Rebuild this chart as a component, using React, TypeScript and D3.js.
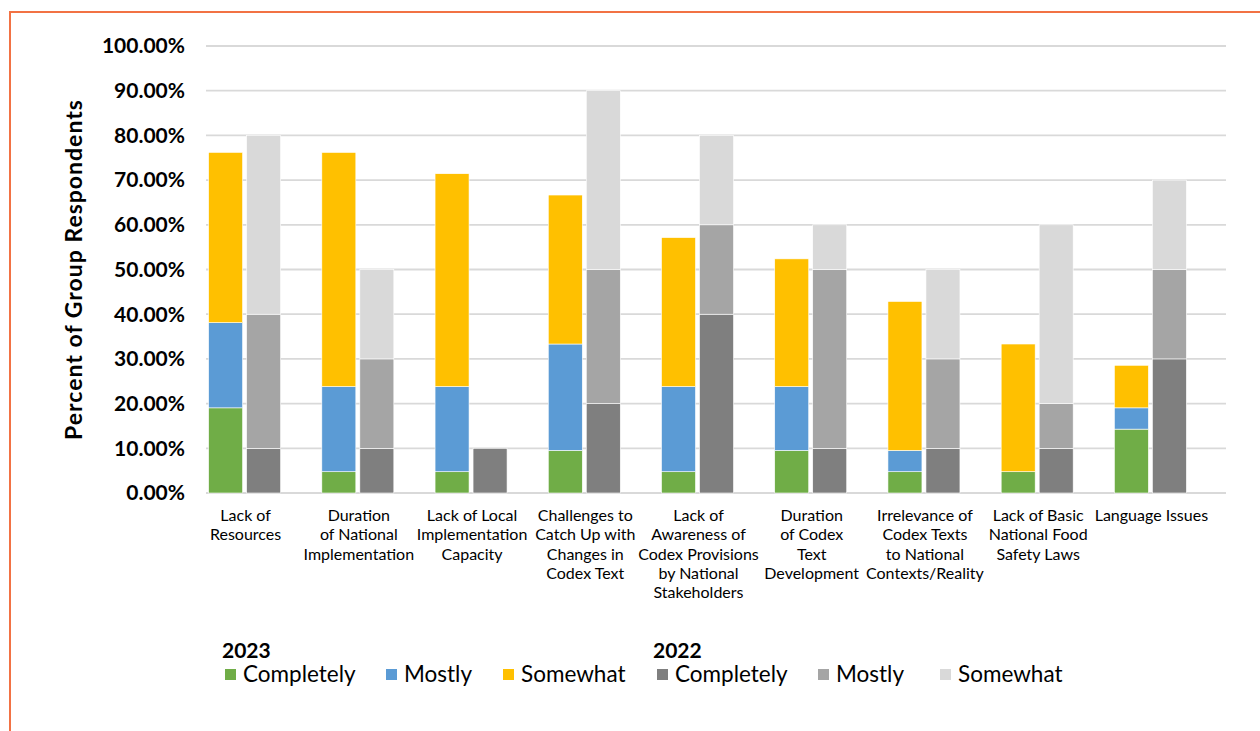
import React from "react";
import * as d3 from "d3";

const categories: string[][] = [
  ["Lack of", "Resources"],
  ["Duration", "of National", "Implementation"],
  ["Lack of Local", "Implementation", "Capacity"],
  ["Challenges to", "Catch Up with", "Changes in", "Codex Text"],
  ["Lack of", "Awareness of", "Codex Provisions", "by National", "Stakeholders"],
  ["Duration", "of Codex", "Text", "Development"],
  ["Irrelevance of", "Codex Texts", "to National", "Contexts/Reality"],
  ["Lack of Basic", "National Food", "Safety Laws"],
  ["Language Issues"],
];

// 2023 (share of respondents)
const c2023Completely = [0.1905, 0.0476, 0.0476, 0.0952, 0.0476, 0.0952, 0.0476, 0.0476, 0.1429];
const c2023Mostly = [0.1905, 0.1905, 0.1905, 0.2381, 0.1905, 0.1429, 0.0476, 0.0, 0.0476];
const c2023Somewhat = [0.381, 0.5238, 0.4762, 0.3333, 0.3333, 0.2857, 0.3333, 0.2857, 0.0952];
// 2022
const c2022Completely = [0.1, 0.1, 0.1, 0.2, 0.4, 0.1, 0.1, 0.1, 0.3];
const c2022Mostly = [0.3, 0.2, 0.0, 0.3, 0.2, 0.4, 0.2, 0.1, 0.2];
const c2022Somewhat = [0.4, 0.2, 0.0, 0.4, 0.2, 0.1, 0.2, 0.4, 0.2];

const yTicks = [0, 0.1, 0.2, 0.3, 0.4, 0.5, 0.6, 0.7, 0.8, 0.9, 1.0];

const colors2023 = ["#70AD47", "#5B9BD5", "#FFC000"];
const colors2022 = ["#7F7F7F", "#A5A5A5", "#D9D9D9"];
const levelNames = ["Completely", "Mostly", "Somewhat"];

const FONT = "Lato, 'Open Sans', sans-serif";

export default function App() {
  const W = 1260;
  const H = 731;
  const y = d3.scaleLinear().domain([0, 1]).range([493, 46]);
  const keys = categories.map((_, i) => String(i));
  const x = d3.scaleBand<string>().domain(keys).range([188, 1207]);
  const barW = 34;
  const gap = 4;

  const rows2023 = keys.map((_, i) => ({ "0": c2023Completely[i], "1": c2023Mostly[i], "2": c2023Somewhat[i] }));
  const rows2022 = keys.map((_, i) => ({ "0": c2022Completely[i], "1": c2022Mostly[i], "2": c2022Somewhat[i] }));
  const s2023 = d3.stack<any>().keys(["0", "1", "2"])(rows2023 as any);
  const s2022 = d3.stack<any>().keys(["0", "1", "2"])(rows2022 as any);

  const fmt = d3.format(".2%");

  const legend2023X = [225, 386, 503];
  const legend2022X = [657, 818, 940];
  const cx = (i: number) => (x(keys[i]) as number) + x.bandwidth() / 2;

  return (
    <svg width={W} height={H} style={{ position: "fixed", left: 0, top: 0, background: "#fff" }} fontFamily={FONT}>
      <rect x={0} y={0} width={W} height={H} fill="#fff" />
      <rect x={10} y={12} width={W + 20} height={H + 20} fill="none" stroke="#F27244" strokeWidth={2} />

      {/* gridlines */}
      {yTicks.map((t) => (
        <line key={t} x1={206} x2={1226} y1={y(t)} y2={y(t)} stroke="#D9D9D9" strokeWidth={1.8} />
      ))}
      {yTicks.map((t) => (
        <text key={"l" + t} x={185} y={y(t)} dy="0.35em" textAnchor="end" fontWeight={700} fontSize={21} fill="#000">
          {fmt(t)}
        </text>
      ))}

      <text
        transform={`translate(82,${y(0.5)}) rotate(-90)`}
        textAnchor="middle"
        fontWeight={700}
        fontSize={23}
        letterSpacing={1}
        fill="#000"
      >
        Percent of Group Respondents
      </text>

      {/* bars */}
      {s2023.map((layer, li) =>
        layer.map((d, i) => (
          <rect
            key={`a${li}-${i}`}
            x={cx(i) - gap / 2 - barW}
            y={y(d[1])}
            width={barW}
            height={Math.max(0, y(d[0]) - y(d[1]))}
            fill={colors2023[li]}
            stroke="#fff"
            strokeWidth={0.6}
          />
        ))
      )}
      {s2022.map((layer, li) =>
        layer.map((d, i) => (
          <rect
            key={`b${li}-${i}`}
            x={cx(i) + gap / 2}
            y={y(d[1])}
            width={barW}
            height={Math.max(0, y(d[0]) - y(d[1]))}
            fill={colors2022[li]}
            stroke="#fff"
            strokeWidth={0.6}
          />
        ))
      )}

      {/* category labels */}
      {categories.map((lines, i) => (
        <text key={"c" + i} x={cx(i) + 1} y={521} textAnchor="middle" fontSize={16} fill="#000">
          {lines.map((ln, j) => (
            <tspan key={j} x={cx(i) + 1} dy={j === 0 ? 0 : 19.3}>
              {ln}
            </tspan>
          ))}
        </text>
      ))}

      {/* legend */}
      <text x={222} y={658} fontWeight={700} fontSize={21} fill="#000">2023</text>
      <text x={653} y={658} fontWeight={700} fontSize={21} fill="#000">2022</text>
      {levelNames.map((n, i) => (
        <g key={"lg3" + i}>
          <rect x={legend2023X[i]} y={669} width={11} height={11} fill={colors2023[i]} />
          <text x={legend2023X[i] + 18} y={682} fontSize={22.5} fill="#000">{n}</text>
        </g>
      ))}
      {levelNames.map((n, i) => (
        <g key={"lg2" + i}>
          <rect x={legend2022X[i]} y={669} width={11} height={11} fill={colors2022[i]} />
          <text x={legend2022X[i] + 18} y={682} fontSize={22.5} fill="#000">{n}</text>
        </g>
      ))}
    </svg>
  );
}
